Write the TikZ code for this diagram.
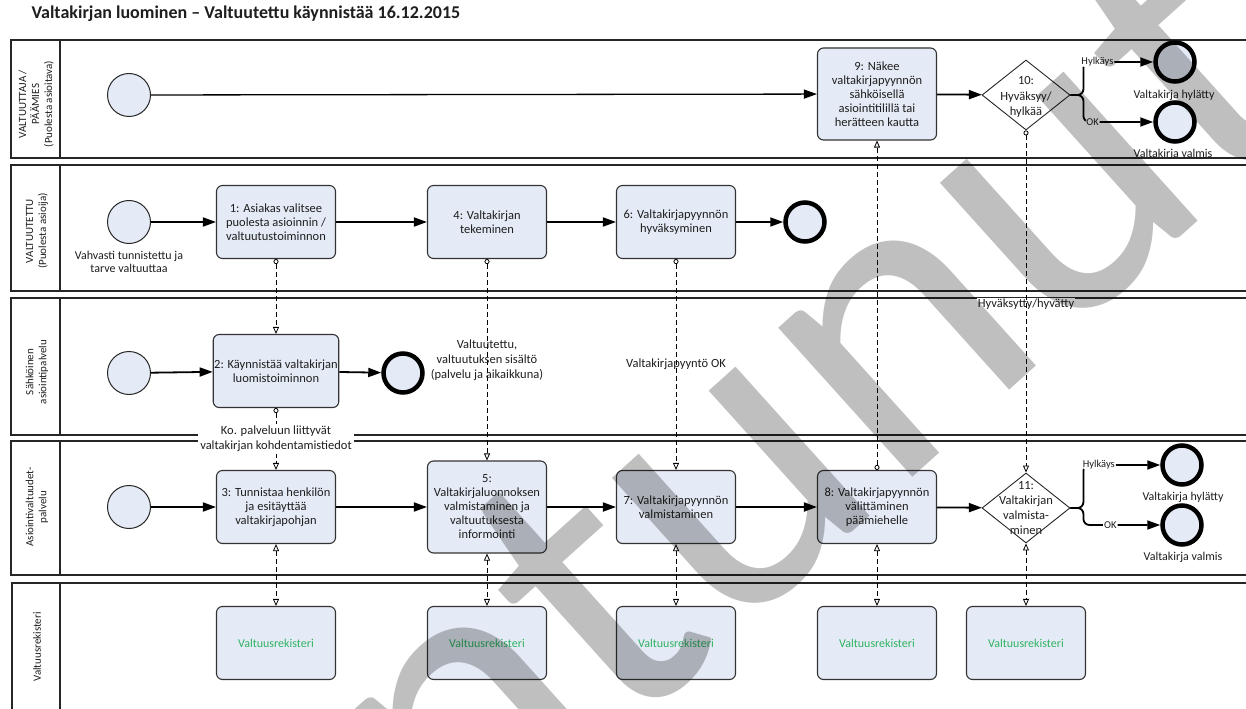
\documentclass[tikz,border=0pt]{standalone}
\usepackage{fontspec}
\setmainfont{Carlito}
\usepackage{tikz}
\usetikzlibrary{arrows.meta, shapes.geometric}
\definecolor{TaskBlue}{RGB}{229,235,246}
\definecolor{LaneGray}{RGB}{38,38,38}
\definecolor{RegGreen}{RGB}{46,178,96}
\definecolor{TextGray}{RGB}{30,30,30}

\begin{document}
\begin{tikzpicture}[x=1bp, y=-1bp,
		every node/.style={font=\fontsize{12bp}{14bp}\selectfont, align=center, text=TextGray},
		lane/.style={draw=LaneGray, line width=1.6bp},
		task/.style={draw=black!80, fill=TaskBlue, rounded corners=6bp, line width=1.1bp,
			minimum width=119bp, minimum height=73bp, inner sep=1bp,
			font=\fontsize{12.5bp}{14bp}\selectfont},
		bigtask/.style={task, minimum height=92bp},
		gateway/.style={diamond, draw=black!85, fill=white, minimum width=88bp,
			minimum height=70bp, inner sep=0pt, line width=0.9bp},
		gtext/.style={font=\fontsize{12.5bp}{15.5bp}\selectfont, inner sep=0pt},
		start/.style={circle, draw=black!85, fill=TaskBlue, minimum size=43bp, inner sep=0pt, line width=1bp},
		stop/.style={circle, draw=black, fill=TaskBlue, minimum size=39bp, inner sep=0pt, line width=4.5bp},
		flow/.style={line width=1.8bp, -{Triangle[length=13bp,width=9bp]}},
		msg/.style={line width=0.8bp, dash pattern=on 5bp off 3bp,
			{Circle[open,length=5bp]}-{Triangle[open,length=7bp,width=6bp]}},
		assoc/.style={line width=0.8bp, dash pattern=on 5bp off 3bp,
			{Triangle[open,length=7bp,width=6bp]}-{Triangle[open,length=7bp,width=6bp]}},
		small/.style={font=\fontsize{10.5bp}{12bp}\selectfont},
		msglabel/.style={font=\fontsize{12.5bp}{15bp}\selectfont},
		lanetitle/.style={rotate=90, font=\fontsize{11bp}{13bp}\selectfont}]
		
		\useasboundingbox (0,0) rectangle (1246,709);
		\clip (0,0) rectangle (1246,709);
		
		% title
		\node[anchor=west, font=\fontsize{18bp}{20bp}\selectfont\bfseries] (title) at (28,14)
		{Valtakirjan luominen – Valtuutettu käynnistää 16.12.2015};
		
		% lanes
		\draw[lane] (11,40) rectangle (1262,158);
		\draw[lane] (60,40) -- (60,158);
		\draw[lane] (11,165) rectangle (1262,291);
		\draw[lane] (60,165) -- (60,291);
		\draw[lane] (11,298) rectangle (1262,435);
		\draw[lane] (60,298) -- (60,435);
		\draw[lane] (11,441) rectangle (1262,575);
		\draw[lane] (60,441) -- (60,575);
		\draw[lane] (12,583) rectangle (1262,720);
		\draw[lane] (60,583) -- (60,720);
		
		\node[lanetitle] (h1) at (36,104) {VALTUUTTAJA /\\PÄÄMIES\\(Puolesta asioitava)};
		\node[lanetitle] (h2) at (37,231) {VALTUUTETTU\\(Puolesta asioija)};
		\node[lanetitle] (h3) at (37,372) {Sähköinen\\asiointipalvelu};
		\node[lanetitle] (h4) at (37,507) {Asiointivaltuudet-\\palvelu};
		\node[lanetitle] (h5) at (37,647) {Valtuusrekisteri};
		
		% start events
		\node[start] (s1) at (129,95) {};
		\node[start] (s2) at (129,222) {};
		\node[start] (s3) at (129,373) {};
		\node[start] (s4) at (129,507) {};
		\node[font=\fontsize{12bp}{13bp}\selectfont] (s2l) at (129,262) {Vahvasti tunnistettu ja\\tarve valtuuttaa};
		
		% valtuuttaja
		\node[bigtask] (t9) at (877,94) {9: Näkee\\valtakirjapyynnön\\sähköisellä\\asiointitilillä tai\\herätteen kautta};
		\node[gateway] (g10) at (1026,95) {};
		\node[gtext] (g10t) at (1026,97) {10:\\Hyväksyy/\\hylkää};
		\node[stop] (e10a) at (1175,62) {};
		\node[stop] (e10b) at (1175,122) {};
		\node (e10al) at (1174,95) {Valtakirja hylätty};
		\node (e10bl) at (1173,154) {Valtakirja valmis};
		
		% valtuutettu
		\node[task] (t1) at (276,222) {1: Asiakas valitsee\\puolesta asioinnin /\\valtuutustoiminnon};
		\node[task] (t4) at (487,222) {4: Valtakirjan\\tekeminen};
		\node[task] (t6) at (676,222) {6: Valtakirjapyynnön\\hyväksyminen};
		\node[stop] (e2) at (805,222) {};
		
		% asiointipalvelu
		\node[task] (t2) at (276,371) {2: Käynnistää valtakirjan\\luomistoiminnon};
		\node[stop] (e3) at (403,373) {};
		
		% asiointivaltuudet
		\node[task] (t3) at (276,507) {3: Tunnistaa henkilön\\ja esitäyttää\\valtakirjapohjan};
		\node[bigtask] (t5) at (487,507) {5:\\Valtakirjaluonnoksen\\valmistaminen ja\\valtuutuksesta\\informointi};
		\node[task] (t7) at (676,507) {7: Valtakirjapyynnön\\valmistaminen};
		\node[task] (t8) at (877,507) {8: Valtakirjapyynnön\\välittäminen\\päämiehelle};
		\node[gateway] (g11) at (1026,508) {};
		\node[gtext, font=\fontsize{12.5bp}{15bp}\selectfont] (g11t) at (1026,508) {11:\\Valtakirjan\\valmista-\\minen};
		\node[stop] (e11a) at (1182,465) {};
		\node[stop] (e11b) at (1182,525) {};
		\node (e11al) at (1183,497) {Valtakirja hylätty};
		\node (e11bl) at (1183,557) {Valtakirja valmis};
		
		% valtuusrekisteri
		\node[task, text=RegGreen, font=\fontsize{12bp}{14bp}\selectfont] (r1) at (276,643) {Valtuusrekisteri};
		\node[task, text=RegGreen, font=\fontsize{12bp}{14bp}\selectfont] (r2) at (487,643) {Valtuusrekisteri};
		\node[task, text=RegGreen, font=\fontsize{12bp}{14bp}\selectfont] (r3) at (676,643) {Valtuusrekisteri};
		\node[task, text=RegGreen, font=\fontsize{12bp}{14bp}\selectfont] (r4) at (877,643) {Valtuusrekisteri};
		\node[task, text=RegGreen, font=\fontsize{12bp}{14bp}\selectfont] (r5) at (1026,643) {Valtuusrekisteri};
		
		% sequence flows
		\draw[flow, line width=1.3bp] (s1) -- (t9);
		\draw[flow] (t9) -- (g10);
		\draw[flow] (s2) -- (t1);
		\draw[flow] (t1) -- (t4);
		\draw[flow] (t4) -- (t6);
		\draw[flow] (t6) -- (e2);
		\draw[flow] (s3) -- (t2);
		\draw[flow] (t2) -- (e3);
		\draw[flow] (s4) -- (t3);
		\draw[flow] (t3) -- (t5);
		\draw[flow] (t5) -- (t7);
		\draw[flow] (t7) -- (t8);
		\draw[flow] (t8) -- (g11);
		
		% gateway branches
		\draw[flow, rounded corners=6bp] (g10.east) -- ++(13,0) |- node[small, fill=white, inner sep=1bp, pos=0.6] {Hylkäys} (e10a);
		\draw[flow, rounded corners=6bp] (g10.east) -- ++(13,0) |- node[small, fill=white, inner sep=1bp, pos=0.565] {OK} (e10b);
		\draw[flow, rounded corners=6bp] (g11.east) -- ++(13,0) |- node[small, fill=white, inner sep=1bp, pos=0.6] {Hylkäys} (e11a);
		\draw[flow, rounded corners=6bp] (g11.east) -- ++(13,0) |- node[small, fill=white, inner sep=1bp, pos=0.675] {OK} (e11b);
		
		% message flows
		\draw[msg] (t1.south) -- (t2.north);
		\draw[msg] (t2.south) -- node[msglabel, fill=white, inner sep=2bp] (m23) {Ko. palveluun liittyvät\\valtakirjan kohdentamistiedot} (t3.north);
		\draw[msg] (t4.south) -- node[msglabel] (m45) {Valtuutettu,\\valtuutuksen sisältö\\(palvelu ja aikaikkuna)} (t5.north);
		\draw[msg] (t6.south) -- node[msglabel] (m67) {Valtakirjapyyntö OK} (t7.north);
		\draw[msg] (t8.north) -- (t9.south);
		\node[msglabel, fill=white, inner sep=1bp] (m1011) at (1026,304) {Hyväksytty/hyvätty};
		\draw[msg] (g10.south) -- (g11.north);
		
		% registry links
		\draw[assoc] (t3.south) -- (r1.north);
		\draw[assoc] (t5.south) -- (r2.north);
		\draw[assoc] (t7.south) -- (r3.north);
		\draw[assoc] (t8.south) -- (r4.north);
		\draw[assoc] (g11.south) -- (r5.north);
		
		% watermark
		\node[rotate=42, text=black, text opacity=0.25, font=\fontsize{420bp}{420bp}\selectfont] (wm) at (400,745) {Vanhentunut};
		
\end{tikzpicture}
\end{document}
